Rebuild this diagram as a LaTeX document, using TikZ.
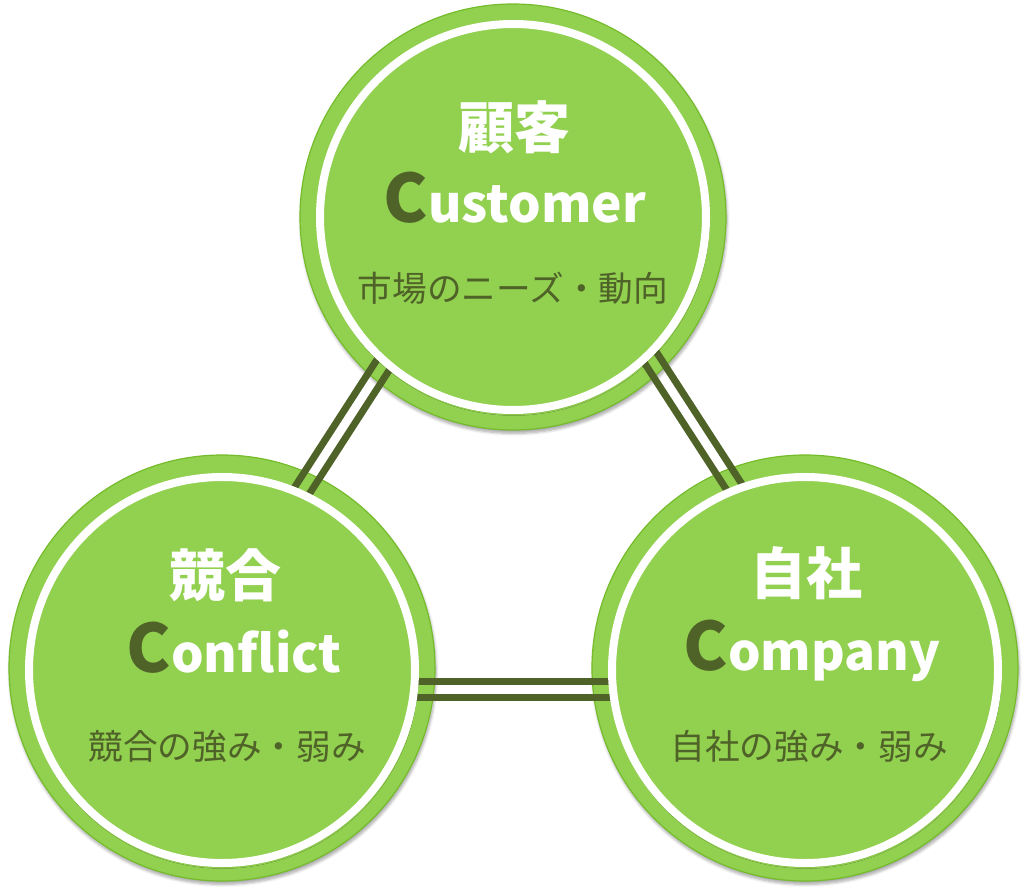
\documentclass[tikz,border=0pt]{standalone}
\usepackage{fontspec}
\setmainfont{Noto Sans CJK JP}
\usetikzlibrary{calc,shadows.blur}
\definecolor{leaf}{HTML}{92D050}
\definecolor{leafedge}{HTML}{74BC2A}
\definecolor{olive}{HTML}{4F6228}
\newcommand\bigC[1]{{\color{olive}\fontsize{50}{56}\selectfont #1}}
\tikzset{
  outerc/.style={circle, fill=leaf, draw=leafedge, line width=0.9pt, minimum size=319.5pt,
    inner sep=0pt, outer sep=0pt,
    blur shadow={shadow xshift=0.8pt, shadow yshift=-2.5pt, shadow blur steps=6, shadow opacity=35}},
  innerc/.style={circle, fill=leaf, draw=white, line width=6pt, minimum size=289.5pt,
    inner sep=0pt, outer sep=0pt,
    blur shadow={shadow xshift=0.5pt, shadow yshift=-2pt, shadow blur steps=5, shadow opacity=25}},
  bar/.style={draw=olive, line width=5.25pt},
  ttl/.style={text=white, font=\bfseries\fontsize{42}{46}\selectfont, inner sep=0pt},
  word/.style={text=white, font=\bfseries\fontsize{38.5}{46}\selectfont, anchor=base, inner sep=0pt},
  subt/.style={text=olive, font=\fontsize{26}{30}\selectfont, inner sep=0pt},
}
\begin{document}
\begin{tikzpicture}[x=0.75pt, y=-0.75pt]
\useasboundingbox (0,0) rectangle (1024,892);
% outer discs
\node[outerc] (T) at (513,217) {};
\node[outerc] (L) at (222,668) {};
\node[outerc] (R) at (805,668) {};
% connectors (double bars)
\draw[bar] ($(L.center)!15.75pt!90:(T.center)$) -- ($(T.center)!15.75pt!-90:(L.center)$);
\draw[bar] ($(L.center)!27.75pt!90:(T.center)$) -- ($(T.center)!27.75pt!-90:(L.center)$);
\draw[bar] ($(T.center)!23.25pt!90:(R.center)$) -- ($(R.center)!23.25pt!-90:(T.center)$);
\draw[bar] ($(T.center)!35.25pt!90:(R.center)$) -- ($(R.center)!35.25pt!-90:(T.center)$);
\draw[bar] ($(L.center)!9.75pt!-90:(R.center)$) -- ($(R.center)!9.75pt!90:(L.center)$);
\draw[bar] ($(L.center)!21.75pt!-90:(R.center)$) -- ($(R.center)!21.75pt!90:(L.center)$);
% inner discs with white ring
\node[innerc] (Ti) at (T.center) {};
\node[innerc] (Li) at ($(L.center)+(0,2)$) {};
\node[innerc] (Ri) at ($(R.center)+(0,2)$) {};
% texts: top
\node[ttl] (Tt) at ($(T.center)+(1,-90)$) {顧客};
\node[word] (Tw) at ($(T.center)+(2,5)$) {\bigC{C}ustomer};
\node[subt] (Ts) at ($(T.center)+(0,71)$) {市場のニーズ・動向};
% texts: left
\node[ttl] (Lt) at ($(L.center)+(3,-93)$) {競合};
\node[word] (Lw) at ($(L.center)+(12,4)$) {\bigC{C}onflict};
\node[subt] (Ls) at ($(L.center)+(5,78)$) {競合の強み・弱み};
% texts: right
\node[ttl] (Rt) at ($(R.center)+(1,-95)$) {自社};
\node[word] (Rw) at ($(R.center)+(7,2)$) {\bigC{C}ompany};
\node[subt] (Rs) at ($(R.center)+(4,78)$) {自社の強み・弱み};
\end{tikzpicture}
\end{document}
